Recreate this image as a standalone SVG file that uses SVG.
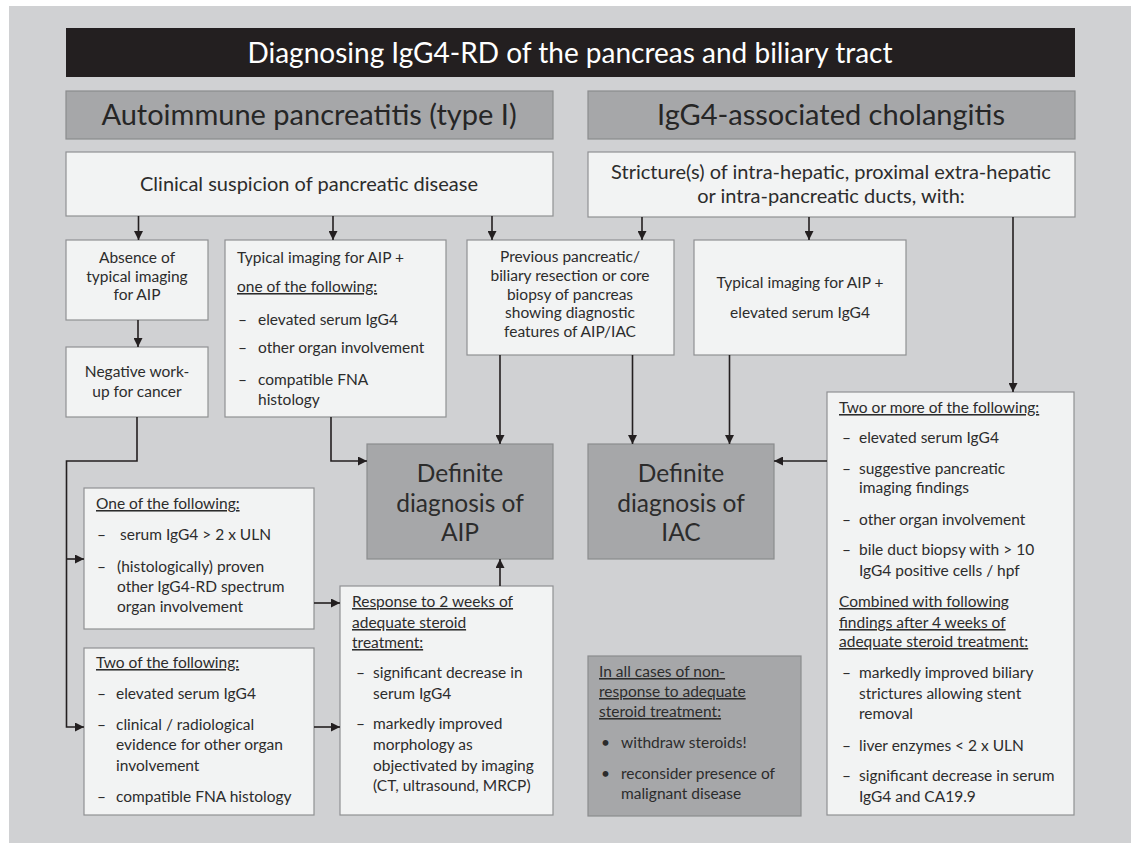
<svg xmlns="http://www.w3.org/2000/svg" width="1134" height="843" viewBox="0 0 1134 843">
<defs>
<marker id="ah" viewBox="0 0 10 10" refX="10" refY="5" markerWidth="9" markerHeight="9" markerUnits="userSpaceOnUse" orient="auto">
<path d="M0,0 L10,5 L0,10 z" fill="#231f20"/>
</marker>
<style>
.bg{fill:#d0d1d3}
.wb{fill:#f2f3f3;stroke:#909193;stroke-width:1.2}
.db{fill:#a6a7a9;stroke:#8b8c8e;stroke-width:1.2}
.t{font-family:Lato,"Open Sans",sans-serif;fill:#2c2c2c;font-size:15.5px}
.c{text-anchor:middle}
.u{text-decoration:underline}
.hd{font-size:29px;fill:#262626}
.big{font-size:20px}
.def{font-size:24.5px}
.conn path{fill:none;stroke:#231f20;stroke-width:1.6}
</style>
</defs>
<rect x="0" y="0" width="1134" height="843" fill="#ffffff"/>
<rect class="bg" x="9" y="6" width="1122" height="837"/>

<g id="title">
<rect x="66" y="28" width="1009" height="49" fill="#231f20"/>
<text class="t c" x="570" y="63" style="font-size:28px;fill:#ffffff">Diagnosing IgG4-RD of the pancreas and biliary tract</text>
</g>
<g id="hdr-aip">
<rect class="db" x="66" y="91" width="487" height="48"/>
<text class="t c hd" x="309" y="125">Autoimmune pancreatitis (type I)</text>
</g>
<g id="hdr-iac">
<rect class="db" x="588" y="91" width="487" height="48"/>
<text class="t c hd" x="831" y="125">IgG4-associated cholangitis</text>
</g>

<g id="clinical">
<rect class="wb" x="66" y="152" width="487" height="64"/>
<text class="t c big" x="309" y="191">Clinical suspicion of pancreatic disease</text>
</g>
<g id="stricture">
<rect class="wb" x="588" y="152" width="487" height="65"/>
<text class="t c big" x="831" y="179">Stricture(s) of intra-hepatic, proximal extra-hepatic</text>
<text class="t c big" x="831" y="203">or intra-pancreatic ducts, with:</text>
</g>

<g id="absence">
<rect class="wb" x="66" y="240" width="142" height="80"/>
<text class="t c" x="137" y="263">Absence of</text>
<text class="t c" x="137" y="282">typical imaging</text>
<text class="t c" x="137" y="300">for AIP</text>
</g>
<g id="negative">
<rect class="wb" x="66" y="347" width="142" height="70"/>
<text class="t c" x="137" y="377">Negative work-</text>
<text class="t c" x="137" y="397">up for cancer</text>
</g>
<g id="typical-aip">
<rect class="wb" x="225" y="240" width="221" height="177"/>
<text class="t" x="237" y="263">Typical imaging for AIP +</text>
<text class="t u" x="237" y="292">one of the following:</text>
<text class="t" x="238" y="325">–</text><text class="t" x="258" y="325">elevated serum IgG4</text>
<text class="t" x="238" y="353">–</text><text class="t" x="258" y="353">other organ involvement</text>
<text class="t" x="238" y="385">–</text><text class="t" x="258" y="385">compatible FNA</text>
<text class="t" x="258" y="405">histology</text>
</g>
<g id="previous">
<rect class="wb" x="467" y="240" width="207" height="115"/>
<text class="t c" x="570" y="262">Previous pancreatic/</text>
<text class="t c" x="570" y="281">biliary resection or core</text>
<text class="t c" x="570" y="300">biopsy of pancreas</text>
<text class="t c" x="570" y="318">showing diagnostic</text>
<text class="t c" x="570" y="337">features of AIP/IAC</text>
</g>
<g id="typical-iac">
<rect class="wb" x="694" y="240" width="212" height="115"/>
<text class="t c" x="800" y="288">Typical imaging for AIP +</text>
<text class="t c" x="800" y="318">elevated serum IgG4</text>
</g>

<g id="def-aip">
<rect class="db" x="367" y="444" width="186" height="115"/>
<text class="t c def" x="460" y="482">Definite</text>
<text class="t c def" x="460" y="512">diagnosis of</text>
<text class="t c def" x="460" y="541">AIP</text>
</g>
<g id="def-iac">
<rect class="db" x="588" y="444" width="186" height="115"/>
<text class="t c def" x="681" y="482">Definite</text>
<text class="t c def" x="681" y="512">diagnosis of</text>
<text class="t c def" x="681" y="541">IAC</text>
</g>

<g id="one-of">
<rect class="wb" x="84" y="488" width="230" height="141"/>
<text class="t u" x="96" y="509">One of the following:</text>
<text class="t" x="97" y="540">–</text><text class="t" x="120" y="540">serum IgG4 &gt; 2 x ULN</text>
<text class="t" x="97" y="572">–</text><text class="t" x="117" y="572">(histologically) proven</text>
<text class="t" x="117" y="592">other IgG4-RD spectrum</text>
<text class="t" x="117" y="612">organ involvement</text>
</g>
<g id="two-of">
<rect class="wb" x="84" y="648" width="230" height="167"/>
<text class="t u" x="96" y="668">Two of the following:</text>
<text class="t" x="97" y="699">–</text><text class="t" x="116" y="699">elevated serum IgG4</text>
<text class="t" x="97" y="730">–</text><text class="t" x="116" y="730">clinical / radiological</text>
<text class="t" x="116" y="750">evidence for other organ</text>
<text class="t" x="116" y="771">involvement</text>
<text class="t" x="97" y="802">–</text><text class="t" x="116" y="802">compatible FNA histology</text>
</g>
<g id="response">
<rect class="wb" x="340" y="586" width="213" height="229"/>
<text class="t u" x="352" y="607">Response to 2 weeks of</text>
<text class="t u" x="352" y="628">adequate steroid</text>
<text class="t u" x="352" y="648">treatment:</text>
<text class="t" x="356" y="678">–</text><text class="t" x="373" y="678">significant decrease in</text>
<text class="t" x="373" y="699">serum IgG4</text>
<text class="t" x="356" y="729">–</text><text class="t" x="373" y="729">markedly improved</text>
<text class="t" x="373" y="750">morphology as</text>
<text class="t" x="373" y="771">objectivated by imaging</text>
<text class="t" x="373" y="791">(CT, ultrasound, MRCP)</text>
</g>
<g id="non-response">
<rect class="db" x="588" y="656" width="213" height="160"/>
<text class="t u" x="599" y="677">In all cases of non-</text>
<text class="t u" x="599" y="697">response to adequate</text>
<text class="t u" x="599" y="717">steroid treatment:</text>
<text class="t" x="601" y="748">•</text><text class="t" x="621" y="748">withdraw steroids!</text>
<text class="t" x="601" y="779">•</text><text class="t" x="621" y="779">reconsider presence of</text>
<text class="t" x="621" y="799">malignant disease</text>
</g>
<g id="two-or-more">
<rect class="wb" x="827" y="392" width="247" height="423"/>
<text class="t u" x="839" y="413">Two or more of the following:</text>
<text class="t" x="842" y="443">–</text><text class="t" x="859" y="443">elevated serum IgG4</text>
<text class="t" x="842" y="474">–</text><text class="t" x="859" y="474">suggestive pancreatic</text>
<text class="t" x="859" y="493">imaging findings</text>
<text class="t" x="842" y="525">–</text><text class="t" x="859" y="525">other organ involvement</text>
<text class="t" x="842" y="555">–</text><text class="t" x="859" y="555">bile duct biopsy with &gt; 10</text>
<text class="t" x="859" y="576">IgG4 positive cells / hpf</text>
<text class="t u" x="839" y="607">Combined with following</text>
<text class="t u" x="839" y="628">findings after 4 weeks of</text>
<text class="t u" x="839" y="647">adequate steroid treatment:</text>
<text class="t" x="842" y="678">–</text><text class="t" x="859" y="678">markedly improved biliary</text>
<text class="t" x="859" y="699">strictures allowing stent</text>
<text class="t" x="859" y="719">removal</text>
<text class="t" x="842" y="751">–</text><text class="t" x="859" y="751">liver enzymes &lt; 2 x ULN</text>
<text class="t" x="842" y="781">–</text><text class="t" x="859" y="781">significant decrease in serum</text>
<text class="t" x="859" y="802">IgG4 and CA19.9</text>
</g>

<g id="connectors" class="conn">
<path d="M138.5,216 V240" marker-end="url(#ah)"/>
<path d="M333,216 V240" marker-end="url(#ah)"/>
<path d="M492,216 V240" marker-end="url(#ah)"/>
<path d="M642,217 V240" marker-end="url(#ah)"/>
<path d="M809,217 V240" marker-end="url(#ah)"/>
<path d="M1013,217 V392" marker-end="url(#ah)"/>
<path d="M138,320 V347" marker-end="url(#ah)"/>
<path d="M331,417 V461 H367" marker-end="url(#ah)"/>
<path d="M500,355 V444" marker-end="url(#ah)"/>
<path d="M632.5,355 V444" marker-end="url(#ah)"/>
<path d="M729.5,355 V444" marker-end="url(#ah)"/>
<path d="M827,461 H774" marker-end="url(#ah)"/>
<path d="M137,417 V461 H66.5 V727 H84" marker-end="url(#ah)"/>
<path d="M66.5,559 H84" marker-end="url(#ah)"/>
<path d="M314,603 H340" marker-end="url(#ah)"/>
<path d="M314,727 H340" marker-end="url(#ah)"/>
<path d="M500,586 V559" marker-end="url(#ah)"/>
</g>
</svg>
